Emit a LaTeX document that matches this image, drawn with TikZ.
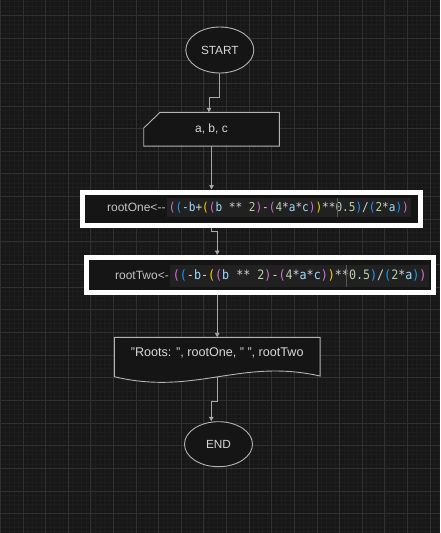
\documentclass[tikz,border=0pt]{standalone}
\usepackage{fontspec}
\setmainfont{Liberation Sans}
\newfontfamily\codefont[FakeStretch=0.9]{DejaVu Sans Mono}
\usetikzlibrary{arrows.meta,calc,shapes.geometric}
\definecolor{bgc}{HTML}{171717}
\definecolor{minorc}{HTML}{1D1D1D}
\definecolor{majorc}{HTML}{303030}
\definecolor{shapefill}{HTML}{151515}
\definecolor{shapeline}{HTML}{B4B4B4}
\definecolor{connc}{HTML}{A8A8A8}
\definecolor{txtc}{HTML}{D8D8D8}
\definecolor{lblc}{HTML}{C4C4C4}
\definecolor{codebg}{HTML}{212121}
\definecolor{brP}{HTML}{DA70D6}
\definecolor{brB}{HTML}{179FFF}
\definecolor{brY}{HTML}{FFD700}
\definecolor{cvar}{HTML}{9CDCFE}
\definecolor{cnum}{HTML}{B5CEA8}
\definecolor{cop}{HTML}{D4D4D4}
\newcommand\kP[1]{\textcolor{brP}{#1}}
\newcommand\kB[1]{\textcolor{brB}{#1}}
\newcommand\kY[1]{\textcolor{brY}{#1}}
\newcommand\kV[1]{\textcolor{cvar}{#1}}
\newcommand\kN[1]{\textcolor{cnum}{#1}}
\newcommand\kO[1]{\textcolor{cop}{#1}}
\begin{document}
\begin{tikzpicture}[x=1pt,y=-1pt,
  minorgrid/.style={draw=minorc,line width=0.5pt},
  majorgrid/.style={draw=majorc,line width=0.8pt},
  term/.style={ellipse,draw=shapeline,fill=shapefill,line width=0.9pt,
    minimum width=68,minimum height=46,inner sep=0pt,text=txtc,
    font=\fontsize{11.8}{14}\selectfont},
  frame/.style={rectangle,inner sep=0pt,outer sep=0pt},
  shapedraw/.style={draw=shapeline,fill=shapefill,line width=0.9pt},
  txt/.style={inner sep=0pt,text=txtc,font=\fontsize{12}{14}\selectfont},
  hibox/.style={rectangle,draw=white,line width=5pt,fill=shapefill,inner sep=0pt},
  codeA/.style={fill=codebg,inner xsep=2pt,inner ysep=0pt,minimum height=18.7,
    font=\codefont\fontsize{12.3}{14}\selectfont},
  codeB/.style={fill=codebg,inner xsep=2.7pt,inner ysep=0pt,minimum height=21.7,
    font=\codefont\fontsize{13}{15}\selectfont},
  lbl/.style={inner sep=0pt,text=lblc,font=\fontsize{12}{14}\selectfont},
  conn/.style={draw=connc,line width=0.9pt,-{Triangle[length=4.5pt,width=4.5pt]}},
  marker/.style={draw=majorc!80!white,line width=0.7pt}
]
% background and grid
\fill[bgc] (0,0) rectangle (440,533);
\useasboundingbox (0,0) rectangle (440,533);
\foreach \i in {-4,...,98} {
  \draw[minorgrid] ({0.3+4.524*\i},0) -- ({0.3+4.524*\i},533);
}
\foreach \i in {-4,...,118} {
  \draw[minorgrid] (0,{15.3+4.53*\i}) -- (440,{15.3+4.53*\i});
}
\foreach \i in {0,...,19} {
  \draw[majorgrid] ({0.3+22.62*\i},0) -- ({0.3+22.62*\i},533);
}
\foreach \i in {-1,...,23} {
  \draw[majorgrid] (0,{15.3+22.65*\i}) -- (440,{15.3+22.65*\i});
}

% START
\node[term] (start) at (219.8,50) {START};

% input a, b, c
\node[frame,minimum width=135.6,minimum height=33.7] (input) at (211.5,129.2) {};
\draw[shapedraw] ($(input.north west)+(16.3,0)$) -- (input.north east)
  -- (input.south east) -- (input.south west) -- ($(input.north west)+(0,15.7)$) -- cycle;
\node[txt] (inputtxt) at (input.center) {a, b, c};

% rootOne
\node[hibox,minimum width=338,minimum height=33] (one) at (251.5,208.5) {};
\node[codeA,anchor=west] (onecode) at (166.7,207.4) {\kP{(}\kB{(}\kO{-}\kV{b}\kO{+}\kY{(}\kP{(}\kV{b}\kO{\ **\ }\kN{2}\kP{)}\kO{-}\kP{(}\kN{4}\kO{*}\kV{a}\kO{*}\kV{c}\kP{)}\kY{)}\kO{**}\kN{0.5}\kB{)}\kO{/}\kB{(}\kN{2}\kO{*}\kV{a}\kB{)}\kP{)}};
\node[lbl,anchor=east] (onelbl) at ($(onecode.west)+(-1,0.3)$) {rootOne<-{}-};
\coordinate (mk1) at (337.5,0);
\draw[marker] (mk1 |- onecode.north) -- (mk1 |- onecode.south);

% rootTwo
\node[hibox,minimum width=347,minimum height=35] (two) at (260,275) {};
\node[codeB,anchor=west] (twocode) at (170,275.8) {\kP{(}\kB{(}\kO{-}\kV{b}\kO{-}\kY{(}\kP{(}\kV{b}\kO{\ **\ }\kN{2}\kP{)}\kO{-}\kP{(}\kN{4}\kO{*}\kV{a}\kO{*}\kV{c}\kP{)}\kY{)}\kO{**}\kN{0.5}\kB{)}\kO{/}\kB{(}\kN{2}\kO{*}\kV{a}\kB{)}\kP{)}};
\node[lbl,anchor=east] (twolbl) at ($(twocode.west)+(-1,0)$) {rootTwo<-};
\coordinate (mk2) at (346,0);
\draw[marker] (mk2 |- twocode.north) -- (mk2 |- twocode.south);

% output
\node[frame,minimum width=205.7,minimum height=44.4] (output) at (217.2,359.5) {};
\draw[shapedraw] (output.north west) -- (output.north east)
  -- ($(output.south east)+(0,-5.7)$)
  .. controls ($(output.south east)+(-80,-23.7)$) and ($(output.south west)+(80.7,14.3)$)
  .. ($(output.south west)+(0,-5)$) -- cycle;
\node[txt,font=\fontsize{12.6}{15}\selectfont] (outtxt) at (217.2,353.3) {"Roots: ", rootOne, " ", rootTwo};
\coordinate (outbot) at ($(output.south)+(0,-4.8)$);

% END
\node[term,minimum height=45] (stop) at (218.5,444.2) {END};

% connectors
\draw[conn] (start.south) -- ++(0,23.7) -| ($(input.north)+(-2.5,0)$);
\draw[conn] (input.south) -- (input.south |- one.north);
\draw[conn] (input.south |- one.south) -- ++(0,4.2) -| (output.north |- two.north);
\draw[conn] (output.north |- two.south) -- (output.north);
\draw[conn] (outbot) -- ++(0,24.8) -| ($(stop.north)+(-7.2,0)$);
\end{tikzpicture}
\end{document}
